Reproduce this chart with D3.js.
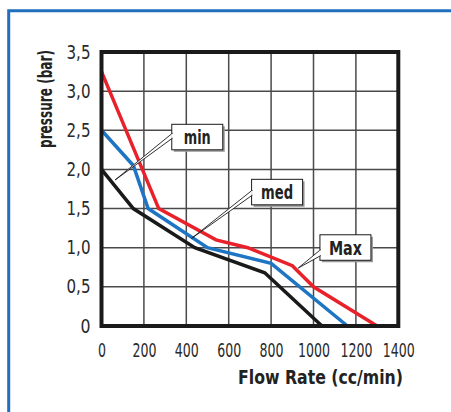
<!DOCTYPE html>
<html>
<head>
<meta charset="utf-8">
<script src="https://cdn.jsdelivr.net/npm/d3@7/dist/d3.min.js"></script>
<style>
  html, body { margin: 0; padding: 0; background: #fff; }
  svg { display: block; }
  .tick-label { font-family: "DejaVu Sans Condensed", "DejaVu Sans", sans-serif; font-size: 19px; fill: #2a2a2a; }
  .axis-title { font-family: "DejaVu Sans Condensed", "DejaVu Sans", sans-serif; font-weight: bold; font-size: 20px; fill: #222; }
  .callout-text { font-family: "DejaVu Sans Condensed", "DejaVu Sans", sans-serif; font-weight: bold; font-size: 19px; fill: #222; }
</style>
</head>
<body>
<div id="chart"></div>
<script>
// data
var xTicks = [0, 200, 400, 600, 800, 1000, 1200, 1400];
var yTicks = [0, 0.5, 1.0, 1.5, 2.0, 2.5, 3.0, 3.5];
var yTickLabels = ['0', '0,5', '1,0', '1,5', '2,0', '2,5', '3,0', '3,5'];

var maxFlow = [0, 270, 540, 690, 900, 1000, 1300];
var maxPressure = [3.25, 1.5, 1.1, 1.0, 0.77, 0.5, 0];
var medFlow = [0, 150, 220, 500, 800, 1160];
var medPressure = [2.5, 2.05, 1.5, 1.0, 0.8, 0];
var minFlow = [0, 150, 440, 770, 1040];
var minPressure = [2.0, 1.5, 1.0, 0.68, 0];

var seriesNames = ['Max', 'med', 'min'];
var seriesColors = ['#e8212b', '#1d75c3', '#1a1a1a'];

// callout tips (data units) sitting on each curve
var calloutNames = ['min', 'med', 'Max'];
var calloutFlow = [64, 425, 928];
var calloutPressure = [1.865, 1.12, 0.74];

(function () {
	'use strict';

	var width = 451, height = 412;
	var plot = { left: 101.5, right: 398.3, top: 52, bottom: 326 };

	var svg = d3.select('#chart')
		.append('svg')
		.attr('width', width)
		.attr('height', height);

	// blue frame running off the right and bottom edges
	svg.append('path')
		.attr('d', 'M8.7,' + (height + 5) + 'V10.8H' + (width + 5))
		.attr('fill', 'none')
		.attr('stroke', '#1f6fbd')
		.attr('stroke-width', 3);

	var x = d3.scaleLinear().domain([0, 1400]).range([plot.left, plot.right]);
	var y = d3.scaleLinear().domain([0, 3.5]).range([plot.bottom, plot.top]);

	// grid
	var grid = svg.append('g').attr('class', 'grid');
	grid.selectAll('line.vgrid')
		.data(xTicks.slice(1, -1))
		.enter()
		.append('line')
		.attr('x1', function (d) { return x(d); })
		.attr('x2', function (d) { return x(d); })
		.attr('y1', plot.top)
		.attr('y2', plot.bottom)
		.attr('stroke', '#4a4a4a')
		.attr('stroke-width', 1.5);
	grid.selectAll('line.hgrid')
		.data(yTicks.slice(1, -1))
		.enter()
		.append('line')
		.attr('y1', function (d) { return y(d); })
		.attr('y2', function (d) { return y(d); })
		.attr('x1', plot.left)
		.attr('x2', plot.right)
		.attr('stroke', '#4a4a4a')
		.attr('stroke-width', 1.5);

	// series
	var series = [
		{ name: seriesNames[0], color: seriesColors[0], flow: maxFlow, pressure: maxPressure },
		{ name: seriesNames[1], color: seriesColors[1], flow: medFlow, pressure: medPressure },
		{ name: seriesNames[2], color: seriesColors[2], flow: minFlow, pressure: minPressure }
	];

	var line = d3.line()
		.x(function (d) { return x(d[0]); })
		.y(function (d) { return y(d[1]); });

	svg.append('g')
		.selectAll('path')
		.data(series)
		.enter()
		.append('path')
		.attr('d', function (s) { return line(d3.zip(s.flow, s.pressure)); })
		.attr('fill', 'none')
		.attr('stroke', function (s) { return s.color; })
		.attr('stroke-width', 3.5)
		.attr('stroke-linejoin', 'miter');

	// thick plot frame
	svg.append('rect')
		.attr('x', plot.left)
		.attr('y', plot.top)
		.attr('width', plot.right - plot.left)
		.attr('height', plot.bottom - plot.top)
		.attr('fill', 'none')
		.attr('stroke', '#1a1a1a')
		.attr('stroke-width', 4);

	// axes with d3 axis generators, then restyle
	var yAxis = d3.axisLeft(y)
		.tickValues(yTicks)
		.tickSize(0)
		.tickPadding(11)
		.tickFormat(function (d, i) { return yTickLabels[i]; });
	var gy = svg.append('g')
		.attr('transform', 'translate(' + plot.left + ',0)')
		.call(yAxis);

	var xAxis = d3.axisBottom(x)
		.tickValues(xTicks)
		.tickSize(0)
		.tickPadding(17)
		.tickFormat(d3.format('d'));
	var gx = svg.append('g')
		.attr('transform', 'translate(0,' + plot.bottom + ')')
		.call(xAxis);

	[gx, gy].forEach(function (g) {
		g.attr('font-size', null).attr('font-family', null);
		g.select('.domain').remove();
		g.selectAll('text')
			.attr('class', 'tick-label')
			.attr('fill', null);
	});
	// digits in the original are narrow
	gx.selectAll('text')
		.attr('dy', '0.72em')
		.attr('textLength', function (d) { return String(d).length * 8; })
		.attr('lengthAdjust', 'spacingAndGlyphs');
	gy.selectAll('text')
		.attr('textLength', function (d, i) { return yTickLabels[i].length === 1 ? 10 : 24; })
		.attr('lengthAdjust', 'spacingAndGlyphs');

	// axis titles
	svg.append('text')
		.attr('class', 'axis-title')
		.attr('x', 403)
		.attr('y', 384)
		.attr('text-anchor', 'end')
		.attr('textLength', 165)
		.attr('lengthAdjust', 'spacingAndGlyphs')
		.text('Flow Rate (cc/min)');

	svg.append('text')
		.attr('class', 'axis-title')
		.attr('transform', 'translate(52,50) rotate(-90)')
		.attr('text-anchor', 'end')
		.attr('textLength', 98)
		.attr('lengthAdjust', 'spacingAndGlyphs')
		.text('pressure (bar)');

	// callouts
	var boxW = 51, boxH = 25.5;
	var offsets = [[56.7, -55.7, 9, 14], [60, -59, 11, 16], [21.7, -33.3, 15, 21]];
	var textWidths = [27, 32, 33];

	calloutNames.forEach(function (name, i) {
		var tx = x(calloutFlow[i]), ty = y(calloutPressure[i]);
		var bx = tx + offsets[i][0], by = ty + offsets[i][1];
		var g = svg.append('g');

		// shadow
		g.append('rect')
			.attr('x', bx + 2).attr('y', by + 2)
			.attr('width', boxW).attr('height', boxH)
			.attr('fill', '#9a9a9a');
		g.append('rect')
			.attr('x', bx).attr('y', by)
			.attr('width', boxW).attr('height', boxH)
			.attr('fill', '#fff')
			.attr('stroke', '#1a1a1a')
			.attr('stroke-width', 1);
		// wedge pointer
		g.append('path')
			.attr('d', 'M' + (bx + 0.5) + ',' + (by + offsets[i][2]) +
				'L' + tx + ',' + ty +
				'L' + (bx + 0.5) + ',' + (by + offsets[i][3]) + 'Z')
			.attr('fill', '#fff')
			.attr('stroke', '#1a1a1a')
			.attr('stroke-width', 0.9)
			.attr('stroke-linejoin', 'miter');
		g.append('line')
			.attr('x1', bx + 0.5).attr('x2', bx + 0.5)
			.attr('y1', by + offsets[i][2] + 0.6).attr('y2', by + offsets[i][3] - 0.6)
			.attr('stroke', '#fff')
			.attr('stroke-width', 1.6);
		g.append('text')
			.attr('class', 'callout-text')
			.attr('x', bx + boxW / 2)
			.attr('y', by + boxH / 2 + 7)
			.attr('text-anchor', 'middle')
			.attr('textLength', textWidths[i])
			.attr('lengthAdjust', 'spacingAndGlyphs')
			.text(name);
	});
})();
</script>
</body>
</html>
